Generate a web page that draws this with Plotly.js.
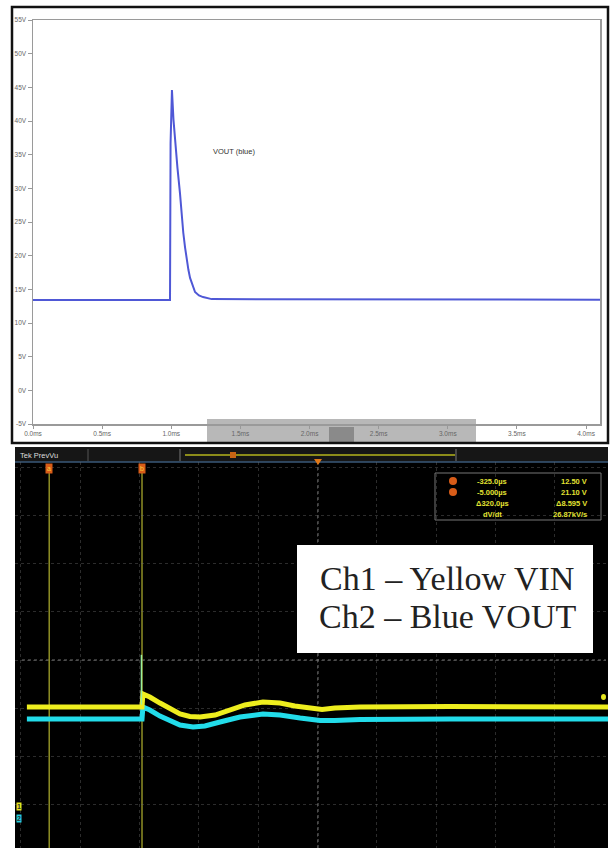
<!DOCTYPE html>
<html>
<head>
<meta charset="utf-8">
<script src="https://cdn.plot.ly/plotly-3.0.1.min.js"></script>
<style>html,body{margin:0;padding:0;background:#fff;}#chart{width:611px;height:848px;}</style>
</head>
<body>
<div id="chart"></div>
<script>
// ---- Top: simulation (time in ms, voltage in V) ----
const simTime = [0, 0.991, 0.995, 1.005, 1.016, 1.027, 1.045, 1.063, 1.075, 1.087, 1.100, 1.112, 1.124, 1.136, 1.155, 1.172, 1.200, 1.230, 1.292, 4.101];
const simVout = [13.4, 13.4, 36.7, 44.6, 40.2, 37.2, 33.0, 29.3, 26.2, 23.4, 21.2, 19.4, 17.9, 16.7, 15.4, 14.6, 14.1, 13.85, 13.55, 13.45];
const simYTicks = [-5, 0, 5, 10, 15, 20, 25, 30, 35, 40, 45, 50, 55];
const simXTicks = [0, 0.5, 1.0, 1.5, 2.0, 2.5, 3.0, 3.5, 4.0];
const simLabel = "VOUT (blue)";

// ---- Bottom: oscilloscope capture (time in µs, voltage in V) ----
const scopeTimeVin = [-402, -12, -5, -2, 22, 57, 91, 126, 160, 195, 247, 298, 350, 412, 471, 522, 574, 616, 660, 747, 1057, 1602];
const scopeVin     = [12.5, 12.5, 12.5, 14.17, 13.78, 13.01, 12.24, 11.60, 11.28, 11.22, 11.47, 12.11, 12.76, 13.14, 13.01, 12.63, 12.31, 12.18, 12.37, 12.5, 12.56, 12.5];
const scopeTimeVout = [-402, -12, -5, -2, 22, 57, 91, 126, 171, 212, 264, 333, 412, 471, 540, 609, 660, 747, 1057, 1602];
const scopeVout     = [10.96, 10.96, 10.96, 12.5, 12.11, 11.34, 10.70, 10.19, 9.93, 10.06, 10.57, 11.22, 11.60, 11.47, 11.09, 10.77, 10.77, 10.90, 10.96, 10.96];
const spikeTime = [-7, -7];
const spikeV = [12.8, 19.2];
const cursorTimes = [-325, -5];
const cursorNames = ["a", "b"];
const measCol1 = ["-325.0µs", "-5.000µs", "Δ320.0µs", "dV/dt"];
const measCol2 = ["12.50 V", "21.10 V", "Δ8.595 V", "26.87kV/s"];
const legendLines = ["Ch1 – Yellow VIN", "Ch2 – Blue VOUT"];
const channelTags = ["1", "2"];
const headerText = "Tek PrevVu";

const W = 611, H = 848;
const px = v => v / W;
const py = v => 1 - v / H;

const traces = [
  {x: simTime, y: simVout, xaxis: 'x', yaxis: 'y', mode: 'lines',
   line: {color: '#4f58d6', width: 2}, hoverinfo: 'skip'},
  {x: scopeTimeVout, y: scopeVout, xaxis: 'x2', yaxis: 'y2', mode: 'lines',
   line: {color: '#22dcea', width: 5}, hoverinfo: 'skip'},
  {x: scopeTimeVin, y: scopeVin, xaxis: 'x2', yaxis: 'y2', mode: 'lines',
   line: {color: '#eeee1e', width: 5}, hoverinfo: 'skip'},
  {x: spikeTime, y: spikeV, xaxis: 'x2', yaxis: 'y2', mode: 'lines',
   line: {color: '#9af0a0', width: 1.5}, hoverinfo: 'skip'}
];

const shapes = [
  // top chart outer frame
  {type: 'rect', xref: 'paper', yref: 'paper', x0: px(12), x1: px(608), y0: py(443), y1: py(7),
   line: {color: '#111', width: 2.5}, fillcolor: 'rgba(0,0,0,0)', layer: 'above'},
  // scroll bar overlay
  {type: 'rect', xref: 'paper', yref: 'paper', x0: px(207), x1: px(476), y0: py(442), y1: py(419),
   line: {width: 0}, fillcolor: 'rgba(172,172,172,0.85)', layer: 'below'},
  {type: 'rect', xref: 'paper', yref: 'paper', x0: px(329), x1: px(354), y0: py(442), y1: py(427),
   line: {width: 0}, fillcolor: '#8a8a8a', layer: 'below'},
  // scope black screen
  {type: 'rect', xref: 'paper', yref: 'paper', x0: px(15), x1: px(608), y0: 0, y1: py(447),
   line: {width: 0}, fillcolor: '#000', layer: 'below'},
  // header bar
  {type: 'rect', xref: 'paper', yref: 'paper', x0: px(15), x1: px(608), y0: py(462), y1: py(447),
   line: {width: 0}, fillcolor: '#161616', layer: 'below'},
  {type: 'line', xref: 'paper', yref: 'paper', x0: px(15), x1: px(608), y0: py(462), y1: py(462),
   line: {color: '#3a5878', width: 1.5}, layer: 'below'},
  {type: 'line', xref: 'paper', yref: 'paper', x0: px(88), x1: px(88), y0: py(461), y1: py(449),
   line: {color: '#555', width: 1}, layer: 'below'},
  {type: 'line', xref: 'paper', yref: 'paper', x0: px(180), x1: px(180), y0: py(461), y1: py(449),
   line: {color: '#777', width: 1}, layer: 'below'},
  {type: 'line', xref: 'paper', yref: 'paper', x0: px(456), x1: px(456), y0: py(461), y1: py(449),
   line: {color: '#777', width: 1}, layer: 'below'},
  {type: 'line', xref: 'paper', yref: 'paper', x0: px(185), x1: px(455), y0: py(455), y1: py(455),
   line: {color: '#8c8c1a', width: 2}, layer: 'below'},
  {type: 'rect', xref: 'paper', yref: 'paper', x0: px(230), x1: px(236), y0: py(458), y1: py(452),
   line: {width: 0}, fillcolor: '#c86414', layer: 'below'},
  {type: 'path', xref: 'paper', yref: 'paper',
   path: `M ${px(314)} ${py(459)} L ${px(322)} ${py(459)} L ${px(318)} ${py(465)} Z`,
   line: {width: 0}, fillcolor: '#e07818', layer: 'above'},
  // graticule centre cross
  {type: 'line', xref: 'paper', yref: 'paper', x0: px(318), x1: px(318), y0: 0, y1: py(463),
   line: {color: 'rgba(150,150,150,0.75)', width: 1, dash: 'dot'}, layer: 'below'},
  {type: 'line', xref: 'paper', yref: 'paper', x0: px(22), x1: px(606), y0: py(660), y1: py(660),
   line: {color: 'rgba(150,150,150,0.75)', width: 1, dash: 'dot'}, layer: 'below'},
  // measurement box
  {type: 'rect', xref: 'paper', yref: 'paper', x0: px(435), x1: px(601), y0: py(520), y1: py(473),
   line: {color: '#777', width: 1}, fillcolor: 'rgba(0,0,0,0)', layer: 'above'},
  {type: 'circle', xref: 'paper', yref: 'paper', x0: px(449), x1: px(457), y0: py(485), y1: py(477),
   line: {width: 0}, fillcolor: '#d85c18', layer: 'above'},
  {type: 'circle', xref: 'paper', yref: 'paper', x0: px(449), x1: px(457), y0: py(496), y1: py(488),
   line: {width: 0}, fillcolor: '#d85c18', layer: 'above'},
  // white legend box
  {type: 'rect', xref: 'paper', yref: 'paper', x0: px(297), x1: px(593), y0: py(653), y1: py(545),
   line: {width: 0}, fillcolor: '#ffffff', layer: 'above'},
  // trigger level dot
  {type: 'circle', xref: 'paper', yref: 'paper', x0: px(601), x1: px(606), y0: py(700), y1: py(694),
   line: {width: 0}, fillcolor: '#e6e61e', layer: 'above'}
];
cursorTimes.forEach(t => {
  shapes.push({type: 'line', xref: 'x2', yref: 'paper', x0: t, x1: t, y0: 0, y1: py(470),
    line: {color: '#8f8f25', width: 1.5}, layer: 'below'});
});

const annotations = [
  {xref: 'paper', yref: 'paper', x: px(234), y: py(152), xanchor: 'center', yanchor: 'middle', text: simLabel, showarrow: false,
   font: {family: 'Liberation Sans', size: 7.5, color: '#333'}},
  {xref: 'paper', yref: 'paper', x: px(18), y: py(455), xanchor: 'left', yanchor: 'middle', text: headerText, showarrow: false,
   font: {family: 'Liberation Sans', size: 7.5, color: '#ddd'}}
];
cursorTimes.forEach((t, i) => {
  annotations.push({xref: 'x2', yref: 'paper', x: t, y: py(468), xanchor: 'center', yanchor: 'middle', text: cursorNames[i], showarrow: false,
    bgcolor: '#d85c18', borderpad: 1, font: {family: 'Liberation Sans', size: 7, color: '#f8d040'}});
});
const rowY = [481, 492, 503, 514];
measCol1.forEach((s, i) => {
  annotations.push({xref: 'paper', yref: 'paper', x: px(492), y: py(rowY[i]), xanchor: 'center', yanchor: 'middle', text: '<b>' + s + '</b>', showarrow: false,
    font: {family: 'Liberation Sans', size: 7.5, color: '#e2e232'}});
  annotations.push({xref: 'paper', yref: 'paper', x: px(589), y: py(rowY[i]), xanchor: 'right', yanchor: 'middle', text: '<b>' + measCol2[i] + '</b>', showarrow: false,
    font: {family: 'Liberation Sans', size: 7.5, color: '#e2e232'}});
});
legendLines.forEach((s, i) => {
  annotations.push({xref: 'paper', yref: 'paper', x: px(447), y: py(i === 0 ? 578 : 616), xanchor: 'center', yanchor: 'middle', text: s, showarrow: false,
    font: {family: 'Liberation Serif', size: 34, color: '#222'}});
});
const tagColors = ['#e8e820', '#22d0e0'];
channelTags.forEach((s, i) => {
  annotations.push({xref: 'paper', yref: 'paper', x: px(19), y: py(i === 0 ? 806 : 818), xanchor: 'center', yanchor: 'middle', text: '<b>' + s + '</b>', showarrow: false,
    bgcolor: tagColors[i], borderpad: 0, font: {family: 'Liberation Sans', size: 7, color: '#333'}});
});

const layout = {
  width: W, height: H,
  margin: {l: 0, r: 0, t: 0, b: 0},
  paper_bgcolor: '#ffffff',
  plot_bgcolor: 'rgba(0,0,0,0)',
  showlegend: false,
  xaxis: {
    domain: [px(33), px(600)], anchor: 'y', range: [0, 4.101],
    tickvals: simXTicks, ticktext: simXTicks.map(v => v.toFixed(1) + 'ms'),
    ticks: 'outside', ticklen: 3, tickcolor: '#999', showgrid: false, zeroline: false,
    showline: true, mirror: true, linecolor: '#9a9a9a', linewidth: 1.5,
    tickfont: {family: 'Liberation Sans', size: 6.5, color: '#666'}
  },
  yaxis: {
    domain: [py(424), py(20)], anchor: 'x', range: [-5, 55],
    tickvals: simYTicks, ticktext: simYTicks.map(v => v + 'V'),
    ticks: 'outside', ticklen: 4, tickcolor: '#999', showgrid: false, zeroline: false,
    showline: true, mirror: true, linecolor: '#9a9a9a', linewidth: 1.5,
    tickfont: {family: 'Liberation Sans', size: 6.5, color: '#666'}
  },
  xaxis2: {
    domain: [px(15), px(608)], anchor: 'y2', range: [-443, 1602],
    showticklabels: false, ticks: '', zeroline: false, showline: false,
    showgrid: true, tick0: 600, dtick: 204.5, gridcolor: 'rgba(110,110,110,0.4)', griddash: 'dot', gridwidth: 1
  },
  yaxis2: {
    domain: [0, py(462)], anchor: 'x2', range: [-5.6, 43.95],
    showticklabels: false, ticks: '', zeroline: false, showline: false,
    showgrid: true, tick0: 18.53, dtick: 6.19, gridcolor: 'rgba(110,110,110,0.4)', griddash: 'dot', gridwidth: 1
  },
  shapes: shapes,
  annotations: annotations
};

Plotly.newPlot('chart', traces, layout, {staticPlot: true, displayModeBar: false});
</script>
</body>
</html>
